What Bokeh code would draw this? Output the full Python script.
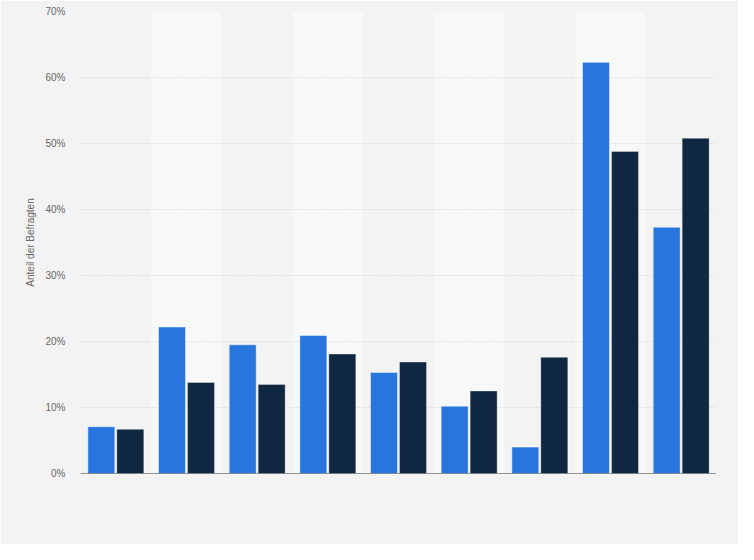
from bokeh.plotting import figure
from bokeh.models import FactorRange, FixedTicker, PrintfTickFormatter, Span, ColumnDataSource
from bokeh.transform import dodge
from bokeh.embed import file_html
from bokeh.resources import INLINE

categories = ["Kategorie 1", "Kategorie 2", "Kategorie 3", "Kategorie 4", "Kategorie 5",
              "Kategorie 6", "Kategorie 7", "Kategorie 8", "Kategorie 9"]
series_1 = [7.1, 22.2, 19.5, 20.9, 15.3, 10.2, 4.0, 62.3, 37.3]
series_2 = [6.7, 13.8, 13.5, 18.1, 16.9, 12.5, 17.6, 48.8, 50.8]
y_ticks = [0, 10, 20, 30, 40, 50, 60, 70]
y_label = "Anteil der Befragten"

BG = "#f3f3f3"
BAND = "#f8f8f8"
BLUE = "#2876dd"
DARK = "#0f2740"
TXT = "#666666"
FONT = "Liberation Sans"

p = figure(width=738, height=544, x_range=FactorRange(*categories, range_padding=0),
           y_range=(0, 70), output_backend="svg", toolbar_location=None,
           min_border_left=80, min_border_right=22, min_border_top=11, min_border_bottom=71)
p.background_fill_color = BG
p.border_fill_color = BG
p.outline_line_color = None

# alternating bands
band_src = ColumnDataSource(dict(cat=categories[1::2], top=[y_ticks[-1]] * len(categories[1::2])))
p.vbar(x="cat", top="top", bottom=0, width=1.0, source=band_src,
       fill_color=BAND, line_color=None, level="image")

src = ColumnDataSource(dict(cat=categories, s1=series_1, s2=series_2))
p.vbar(x=dodge("cat", -0.205, range=p.x_range), top="s1", width=0.382, source=src,
       fill_color=BLUE, line_color="white", line_alpha=0.45, line_width=1)
p.vbar(x=dodge("cat", 0.205, range=p.x_range), top="s2", width=0.382, source=src,
       fill_color=DARK, line_color="white", line_alpha=0.35, line_width=1)

p.add_layout(Span(location=0, dimension="width", line_color="#333333", line_width=1.2, level="overlay"))

p.xaxis.visible = False
p.xgrid.visible = False
p.ygrid.grid_line_color = "#cfcfcf"
p.ygrid.grid_line_dash = "1 2"
p.ygrid.grid_line_width = 1

ya = p.yaxis[0]
ya.ticker = FixedTicker(ticks=y_ticks)
ya.formatter = PrintfTickFormatter(format="%d%%")
ya.axis_line_color = None
ya.major_tick_line_color = None
ya.minor_tick_line_color = None
ya.major_tick_out = 0
ya.major_label_standoff = 15
ya.major_label_text_font = FONT
ya.major_label_text_font_size = "10px"
ya.major_label_text_color = TXT
ya.axis_label = y_label
ya.axis_label_text_font = FONT
ya.axis_label_text_font_size = "10px"
ya.axis_label_text_font_style = "normal"
ya.axis_label_text_color = TXT
ya.axis_label_standoff = 6

html = file_html(p, INLINE)
html = html.replace("<body>", '<body style="background:#f3f3f3">', 1)
open("out.html", "w").write(html)
